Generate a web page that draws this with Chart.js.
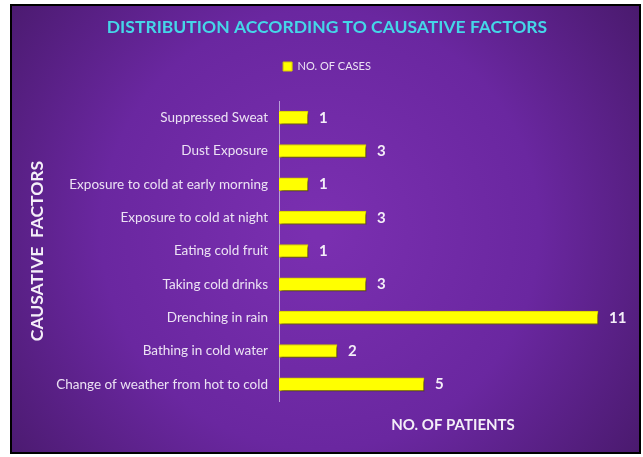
<!DOCTYPE html>
<html>
<head>
<meta charset="utf-8">
<script src="https://cdn.jsdelivr.net/npm/chart.js@4"></script>
<style>
  html, body { margin: 0; padding: 0; background: #fff; }
  #wrap { width: 643px; height: 457px; }
</style>
</head>
<body>
<div id="wrap"><canvas id="causeChart" width="643" height="457"></canvas></div>
<script>
var categories = [
    'Suppressed Sweat',
    'Dust Exposure',
    'Exposure to cold at early morning',
    'Exposure to cold at night',
    'Eating cold fruit',
    'Taking cold drinks',
    'Drenching in rain',
    'Bathing in cold water',
    'Change of weather from hot to cold'
];
var cases = [1, 3, 1, 3, 1, 3, 11, 2, 5];
var seriesName = 'NO. OF CASES';

// purple slide background with black frame
var slideBg = {
    id: 'slideBg',
    beforeDraw: function(chart) {
        var ctx = chart.ctx;
        ctx.save();
        ctx.fillStyle = '#ffffff';
        ctx.fillRect(0, 0, chart.width, chart.height);
        ctx.fillStyle = '#000000';
        ctx.fillRect(10, 4, 631, 450);
        var g = ctx.createRadialGradient(320, 230, 10, 320, 230, 390);
        g.addColorStop(0, '#7a2fb0');
        g.addColorStop(0.55, '#6a27a0');
        g.addColorStop(1, '#4a1a6e');
        ctx.fillStyle = g;
        ctx.fillRect(12, 6, 627, 446);
        ctx.restore();
    }
};

// drop shadow under the bars
var barShadow = {
    id: 'barShadow',
    beforeDatasetsDraw: function(chart) {
        var ctx = chart.ctx;
        ctx.save();
        ctx.shadowColor = 'rgba(20,0,30,0.6)';
        ctx.shadowOffsetX = 2;
        ctx.shadowOffsetY = 2;
        ctx.shadowBlur = 2;
    },
    afterDatasetsDraw: function(chart) {
        chart.ctx.restore();
    }
};

// numbers at the end of each bar
var valueLabels = {
    id: 'valueLabels',
    afterDatasetsDraw: function(chart) {
        var ctx = chart.ctx;
        ctx.save();
        ctx.fillStyle = '#f4eef8';
        ctx.font = 'bold 15px Lato';
        ctx.textAlign = 'left';
        ctx.textBaseline = 'middle';
        chart.getDatasetMeta(0).data.forEach(function(bar, i) {
            ctx.fillText(cases[i], bar.x + 11, bar.y);
        });
        ctx.restore();
    }
};

// extra space below the legend
var legendGap = {
    id: 'legendGap',
    beforeInit: function(chart) {
        var fit = chart.legend.fit;
        chart.legend.fit = function() {
            fit.bind(chart.legend)();
            this.height += 19;
        };
    }
};

var ctx = document.getElementById('causeChart').getContext('2d');
var causeChart = new Chart(ctx, {
    type: 'bar',
    data: {
        labels: categories,
        datasets: [{
            label: seriesName,
            data: cases,
            backgroundColor: '#ffff00',
            borderColor: '#d8cc00',
            borderWidth: 1,
            barThickness: 13
        }]
    },
    plugins: [slideBg, barShadow, valueLabels, legendGap],
    options: {
        responsive: false,
        animation: false,
        indexAxis: 'y',
        layout: { padding: { left: 27, right: 16, top: 13, bottom: 9 } },
        plugins: {
            title: {
                display: true,
                text: 'DISTRIBUTION ACCORDING TO CAUSATIVE FACTORS',
                color: '#45d6e8',
                font: { family: 'Lato', size: 17.5, weight: 'bold' },
                padding: { top: 4, bottom: 17 }
            },
            legend: {
                display: true,
                labels: {
                    color: '#ece2f4',
                    font: { family: 'Lato', size: 11 },
                    boxWidth: 9,
                    boxHeight: 9,
                    padding: 6
                }
            },
            tooltip: { enabled: false }
        },
        scales: {
            x: {
                min: 0,
                max: 12,
                grid: { display: false },
                border: { display: false },
                ticks: { display: false },
                title: {
                    display: true,
                    text: 'NO. OF PATIENTS',
                    color: '#f4eef8',
                    font: { family: 'Lato', size: 15, weight: 'bold' },
                    padding: { top: 7, bottom: 14 }
                }
            },
            y: {
                grid: { display: false },
                border: { display: true, color: '#b9a0d6', width: 1 },
                ticks: {
                    color: '#ece2f4',
                    font: { family: 'Lato', size: 13.5 },
                    padding: 3
                },
                title: {
                    display: true,
                    text: 'CAUSATIVE  FACTORS',
                    color: '#f4eef8',
                    font: { family: 'Lato', size: 17.5, weight: 'bold' },
                    padding: { top: 0, bottom: 0 }
                },
                afterFit: function(scale) {
                    scale.width = 252;
                }
            }
        }
    }
});
</script>
</body>
</html>
